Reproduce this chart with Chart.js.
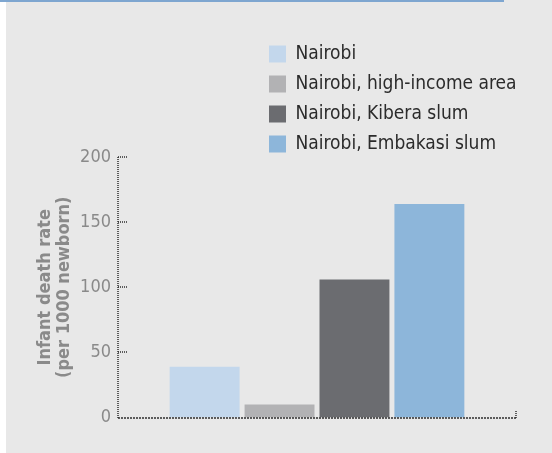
<!DOCTYPE html>
<html>
<head>
<meta charset="utf-8">
<script src="https://cdn.jsdelivr.net/npm/chart.js@4.4.1/dist/chart.umd.min.js"></script>
<style>
  html, body { margin: 0; padding: 0; background: #e8e8e8; width: 552px; height: 453px; overflow: hidden; }
  #strip { position: absolute; left: 0; top: 0; width: 6px; height: 453px; background: #ffffff; }
  #topline { position: absolute; left: 0; top: 0; width: 504px; height: 2px; background: #7ea6d0; }
  #c { position: absolute; left: 0; top: 0; }
</style>
</head>
<body>
<div id="strip"></div>
<div id="topline"></div>
<canvas id="c" width="552" height="453"></canvas>
<script>
// ---- data ----
const categories = [''];
const seriesNames = ['Nairobi', 'Nairobi, high-income area', 'Nairobi, Kibera slum', 'Nairobi, Embakasi slum'];
const nairobi = [39];
const highIncome = [10];
const kibera = [106];
const embakasi = [164];
const yTicks = [0, 50, 100, 150, 200];
const yTitle = ['Infant death rate', '(per 1000 newborn)'];

const colors = ['#c3d7ec', '#b2b2b4', '#6b6c70', '#8db6da'];
const seriesValues = [nairobi, highIncome, kibera, embakasi];

const FONT = "'DejaVu Sans Condensed', 'DejaVu Sans', sans-serif";

// dotted axes and inner tick marks, drawn from the chart's own scales
const dottedAxes = {
  id: 'dottedAxes',
  afterDatasetsDraw(chart) {
    const {ctx, chartArea, scales: {y}} = chart;
    const left = Math.round(chartArea.left);
    const bottom = Math.round(y.getPixelForValue(0));
    const top = Math.round(y.getPixelForValue(yTicks[yTicks.length - 1]));
    const right = Math.round(chartArea.right);
    ctx.save();
    ctx.strokeStyle = '#2e2e2e';
    ctx.lineWidth = 1.5;
    // y axis
    ctx.setLineDash([1, 1]);
    ctx.beginPath();
    ctx.moveTo(left, top);
    ctx.lineTo(left, bottom);
    ctx.stroke();
    // inner ticks
    y.ticks.forEach(t => {
      if (t.value === 0) return;
      const py = Math.round(y.getPixelForValue(t.value));
      ctx.beginPath();
      ctx.moveTo(left, py);
      ctx.lineTo(left + 9, py);
      ctx.stroke();
    });
    // x axis
    ctx.setLineDash([2, 1]);
    ctx.beginPath();
    ctx.moveTo(left, bottom);
    ctx.lineTo(right, bottom);
    ctx.stroke();
    // right end tick
    ctx.setLineDash([1, 1]);
    ctx.beginPath();
    ctx.moveTo(right, bottom);
    ctx.lineTo(right, bottom - 7);
    ctx.stroke();
    ctx.restore();
  }
};

const legendPlace = {
  id: 'legendPlace',
  afterLayout(chart) {
    const lg = chart.legend;
    if (!lg) return;
    const pad = lg.options.labels.padding;
    lg.left = 269 - pad;
    lg.top = 44.5 - pad;
  }
};

new Chart(document.getElementById('c'), {
  type: 'bar',
  data: {
    labels: categories,
    datasets: seriesNames.map((name, i) => ({
      label: name,
      data: seriesValues[i],
      backgroundColor: colors[i],
      borderWidth: 0,
      categoryPercentage: 0.753,
      barPercentage: 0.9333
    }))
  },
  options: {
    responsive: false,
    animation: false,
    devicePixelRatio: 1,
    layout: { padding: { left: 30, top: 157, right: 36, bottom: 35.5 } },
    plugins: {
      legend: {
        position: 'chartArea',
        align: 'start',
        labels: {
          boxWidth: 17,
          boxHeight: 17,
          padding: 11,
          color: '#2b2b2b',
          font: { family: FONT, size: 19 }
        }
      },
      tooltip: { enabled: false }
    },
    scales: {
      x: {
        grid: { display: false, drawTicks: false },
        border: { display: false },
        ticks: { display: false },
        afterFit(s) { s.height = 0; }
      },
      y: {
        min: 0,
        max: 200,
        afterBuildTicks(s) { s.ticks = yTicks.map(v => ({ value: v })); },
        grid: { display: false, drawTicks: false },
        border: { display: false },
        ticks: {
          padding: 7,
          color: '#8a8a8a',
          font: { family: FONT, size: 18 }
        },
        title: {
          display: true,
          text: yTitle,
          color: '#8a8a8a',
          padding: { top: 5, bottom: 0 },
          font: { family: FONT, size: 18, weight: 'bold', lineHeight: 1.1 }
        },
        afterFit(s) { s.width = 88; }
      }
    }
  },
  plugins: [dottedAxes, legendPlace]
});
</script>
</body>
</html>
